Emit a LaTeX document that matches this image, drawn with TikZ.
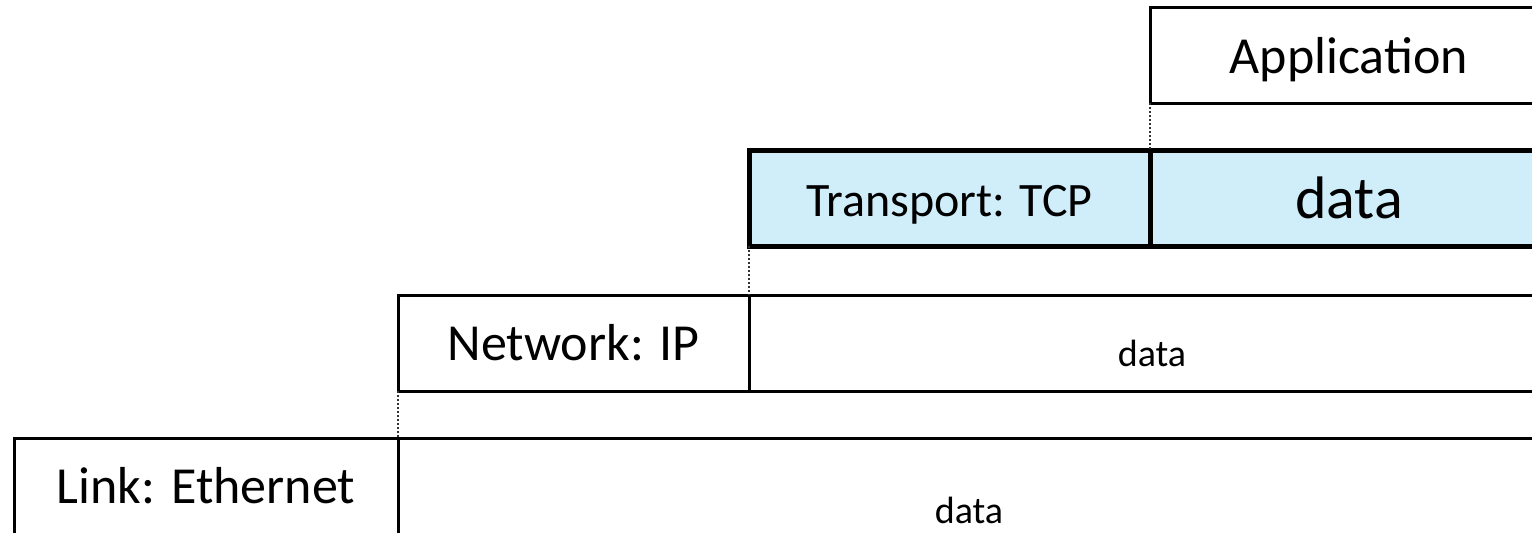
\documentclass[tikz,border=0pt]{standalone}
\usepackage{fontspec}
\setmainfont{Carlito}
\usetikzlibrary{positioning}
\definecolor{segblue}{RGB}{208,238,250}
\newcommand{\lowered}[2]{\raisebox{-#1}[\height][\depth]{#2}}

\begin{document}
\begin{tikzpicture}[x=0.5pt,y=-0.5pt]
\tikzset{cell/.style={draw,line width=1.5pt,inner sep=0pt,outer sep=0pt,minimum height=48pt,font=\fontsize{26}{30}\selectfont}}
\tikzset{seg/.style={cell,line width=2.5pt,fill=segblue}}
\tikzset{payload/.style={font=\fontsize{19}{23}\selectfont,inner sep=0pt}}
\tikzset{guide/.style={densely dotted,line width=1pt,black!80}}

\useasboundingbox (0,0) rectangle (1532,532);
\clip (0,0) rectangle (1532,532);

% application layer
\node[cell,anchor=north west,minimum width=199pt] (app) at (1150,7) {\lowered{2.5pt}{Application}};

% transport segment
\node[seg,anchor=north west,minimum width=200.5pt,font=\fontsize{24}{28}\selectfont] (tcp) at (749,150) {\lowered{3.5pt}{Transport: TCP}};
\node[seg,right=0pt of tcp,minimum width=199pt,font=\fontsize{30}{34}\selectfont] (tcpdata) {data};

% network packet
\node[cell,anchor=north west,minimum width=175.5pt] (ip) at (398,295) {Network: IP};
\node[cell,right=0pt of ip,minimum width=403pt,label={[payload,yshift=-5pt]center:data}] (ipdata) {};

% link frame
\node[cell,anchor=north west,minimum width=192pt] (eth) at (14,438) {Link: Ethernet};
\node[cell,right=0pt of eth,minimum width=571pt,label={[payload,yshift=-12pt]center:data}] (ethdata) {};

\draw[guide] (app.south west) -- (tcpdata.north west);
\draw[guide] (tcp.south west) -- (ipdata.north west);
\draw[guide] (ip.south west) -- (ethdata.north west);

\end{tikzpicture}
\end{document}
